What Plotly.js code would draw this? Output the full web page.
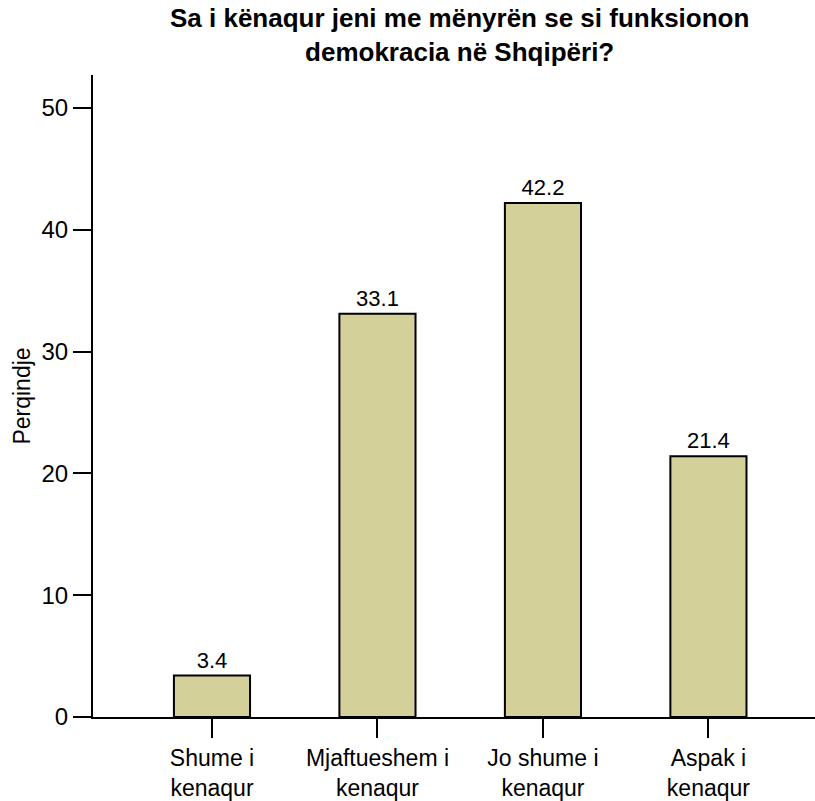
<!DOCTYPE html>
<html>
<head>
<meta charset="utf-8">
<script src="https://cdn.plot.ly/plotly-3.0.1.min.js"></script>
<style>html,body{margin:0;padding:0;background:#fff;}</style>
</head>
<body>
<div id="chart" style="width:815px;height:801px;"></div>
<script>
const categories = ["Shume i<br>kenaqur", "Mjaftueshem i<br>kenaqur", "Jo shume i<br>kenaqur", "Aspak i<br>kenaqur"];
const values = [3.4, 33.1, 42.2, 21.4];
const valueLabels = ["3.4", "33.1", "42.2", "21.4"];
const yTicks = [0, 10, 20, 30, 40, 50];

const FONT = "Arial, 'Liberation Sans', Helvetica, sans-serif";

const trace = {
  type: "bar",
  x: [0, 1, 2, 3],
  y: values,
  width: 0.46,
  text: valueLabels,
  textposition: "outside",
  textfont: {family: FONT, size: 22, color: "#000"},
  cliponaxis: false,
  marker: {color: "#d4d09a", line: {color: "#000", width: 2}},
  hoverinfo: "skip"
};

const layout = {
  width: 815,
  height: 801,
  margin: {l: 93, r: 0, t: 75, b: 84},
  paper_bgcolor: "#fff",
  plot_bgcolor: "#fff",
  showlegend: false,
  font: {family: FONT, color: "#000"},
  title: {
    text: "<b>Sa i kënaqur jeni me mënyrën se si funksionon<br>demokracia në Shqipëri?</b>",
    font: {family: FONT, size: 26, color: "#000"},
    x: 0.564, xanchor: "center", xref: "container",
    y: 0.966, yanchor: "top", yref: "container"
  },
  xaxis: {
    range: [-0.719, 3.644],
    tickmode: "array",
    tickvals: [0, 1, 2, 3],
    ticktext: categories,
    ticks: "outside",
    ticklen: 19,
    tickwidth: 2,
    tickcolor: "#000",
    showline: true,
    linecolor: "#000",
    linewidth: 2,
    showgrid: false,
    zeroline: false,
    tickfont: {family: FONT, size: 23, color: "#000"},
    fixedrange: true
  },
  yaxis: {
    range: [0, 52.7],
    tickmode: "array",
    tickvals: yTicks,
    ticktext: yTicks.map(String),
    ticks: "outside",
    ticklen: 18,
    tickwidth: 2,
    tickcolor: "#000",
    showline: true,
    linecolor: "#000",
    linewidth: 2,
    showgrid: false,
    zeroline: false,
    tickfont: {family: FONT, size: 24, color: "#000"},
    title: {text: "Perqindje", font: {family: FONT, size: 23, color: "#000"}, standoff: 4},
    fixedrange: true
  }
};

Plotly.newPlot("chart", [trace], layout, {displayModeBar: false, staticPlot: true});
</script>
</body>
</html>
